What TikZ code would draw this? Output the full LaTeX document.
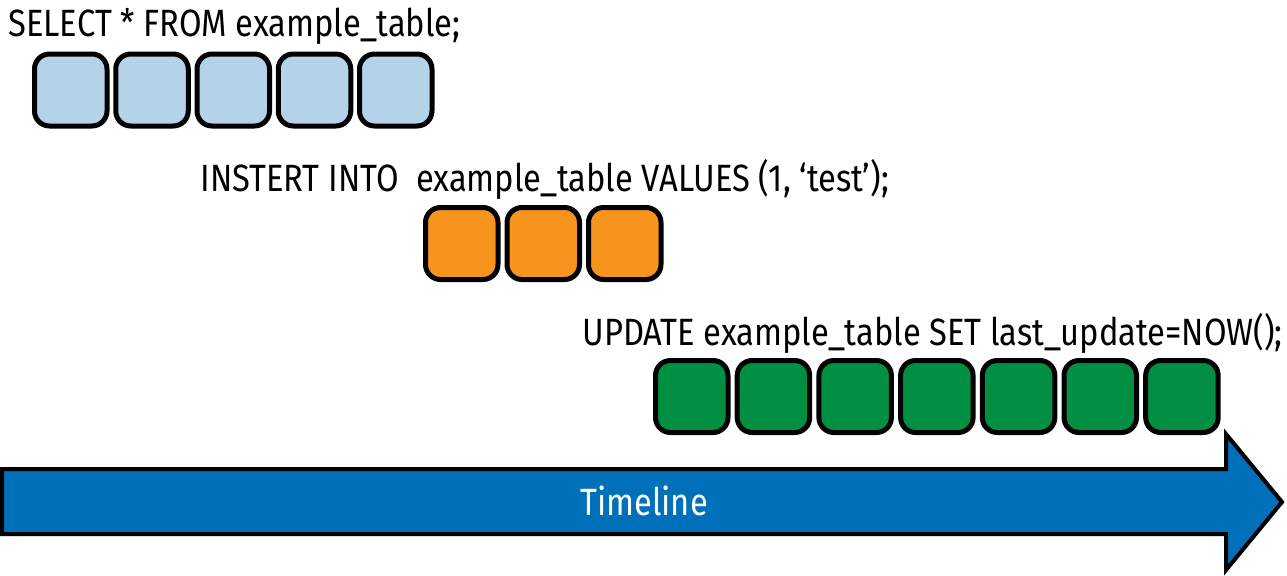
\documentclass[tikz,border=0pt]{standalone}
\usepackage{fontspec}
\setmainfont{Fira Sans}[FakeStretch=0.86]
\definecolor{cellblue}{HTML}{B4D3E8}
\definecolor{cellorange}{HTML}{F7941E}
\definecolor{cellgreen}{HTML}{008F43}
\definecolor{arrowblue}{HTML}{0070BA}
\begin{document}
\begin{tikzpicture}[x=0.5pt,y=-0.5pt,
  cell/.style={draw=black, line width=2.5pt, rounded corners=7.5pt,
    minimum width=36.25pt, minimum height=36pt, inner sep=0pt},
  sqltext/.style={anchor=base west, inner sep=0pt, font=\fontsize{19}{22}\selectfont},
  tl/.style={text=white, inner sep=0pt, font=\fontsize{19}{22}\selectfont}]
\useasboundingbox (0,0) rectangle (1287,575);
% texts
\node[sqltext] (t1) at (8,36) {SELECT * FROM example\_table;};
\node[sqltext] (t2) at (200,191) {INSTERT INTO\ \ example\_table VALUES (1, ‘test’);};
\node[sqltext] (t3) at (582,345) {UPDATE example\_table SET last\_update=NOW();};
% cells
\foreach \i in {1,...,5}
  \node[cell, fill=cellblue] (s\i) at ({70.75+81.25*(\i-1)},90) {};
\foreach \i in {1,...,3}
  \node[cell, fill=cellorange] (o\i) at ({461.75+81.5*(\i-1)},243.5) {};
\foreach \i in {1,...,7}
  \node[cell, fill=cellgreen] (g\i) at ({691.75+81.7*(\i-1)},396.5) {};
% timeline arrow
\draw[line width=2pt, fill=arrowblue, line join=miter]
  (2,469) -- (1226,469) -- (1226,434) -- (1282,502) -- (1226,570) -- (1226,534) -- (2,534) -- cycle;
\node[tl] (tlabel) at (644,501) {Timeline};
\end{tikzpicture}
\end{document}
